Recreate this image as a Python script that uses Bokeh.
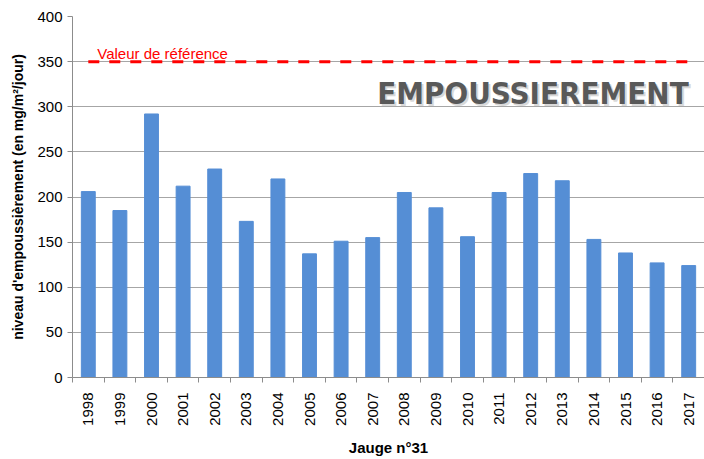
import math
from bokeh.plotting import figure
from bokeh.models import FixedTicker, Range1d
from bokeh.core.properties import value
from bokeh.embed import file_html
from bokeh.resources import INLINE

# ---- data ----
years = list(range(1998, 2018))
dust_values = [206, 185, 292, 212, 231, 173, 220, 137, 151, 155,
               205, 188, 156, 205, 226, 218, 153, 138, 127, 124]
reference_value = 350
reference_label = "Valeur de référence"
banner_text = "EMPOUSSIEREMENT"
y_ticks = [0, 50, 100, 150, 200, 250, 300, 350, 400]
x_title = "Jauge n°31"
y_title = "niveau d'empoussièrement (en mg/m²/jour)"

FONT = "Liberation Sans"
BANNER_FONT = "DejaVu Sans Condensed"
GRID = "#A6A6A6"
AXIS = "#8C8C8C"
BAR = "#558ED5"

p = figure(width=704, height=459, output_backend="svg", toolbar_location=None,
           x_range=Range1d(years[0] - 0.5, years[-1] + 0.5),
           y_range=Range1d(y_ticks[0], y_ticks[-1]),
           min_border_left=72, min_border_right=0, min_border_top=16,
           min_border_bottom=82)
p.outline_line_color = None
p.background_fill_color = "white"
p.border_fill_color = "white"

# bars
p.vbar(x=years, top=dust_values, width=0.44, color=BAR)

# reference line
p.line(x=[years[0], years[-1]], y=[reference_value, reference_value],
       line_color="#FF0000", line_width=3, line_dash="11 10")
p.text(x=[years[0]], y=[reference_value], text=[reference_label],
       x_offset=9, y_offset=-8, text_color="#FF0000",
       text_font=value(FONT), text_font_size="15px",
       text_baseline="alphabetic", text_align="left")

# banner
p.text(x=[years[-1]], y=[y_ticks[6]], text=[banner_text],
       x_offset=2, y_offset=-12, text_color="#C8C8C8", text_alpha=0.7,
       text_font=value(BANNER_FONT), text_font_style="bold",
       text_font_size="31px", text_align="right", text_baseline="alphabetic")
p.text(x=[years[-1]], y=[y_ticks[6]], text=[banner_text],
       x_offset=0, y_offset=-14, text_color="#595959",
       text_font=value(BANNER_FONT), text_font_style="bold",
       text_font_size="31px", text_align="right", text_baseline="alphabetic")

# grid
p.xgrid.grid_line_color = None
p.ygrid.grid_line_color = GRID
p.ygrid.grid_line_width = 1
p.ygrid.ticker = FixedTicker(ticks=y_ticks)

# x axis
xa = p.xaxis[0]
xa.ticker = FixedTicker(ticks=years,
                        minor_ticks=[y - 0.5 for y in years] + [years[-1] + 0.5])
xa.major_label_overrides = {y: str(y) for y in years}
xa.major_label_orientation = math.pi / 2
xa.major_tick_out = 0
xa.major_tick_in = 0
xa.minor_tick_out = 5
xa.minor_tick_in = 0
xa.minor_tick_line_color = AXIS
xa.axis_line_color = AXIS
xa.major_label_standoff = 10
xa.major_label_text_font = FONT
xa.major_label_text_font_size = "15px"
xa.major_label_text_color = "#000000"
xa.axis_label = x_title
xa.axis_label_text_font = FONT
xa.axis_label_text_font_style = "bold"
xa.axis_label_text_font_size = "15px"
xa.axis_label_text_color = "#000000"
xa.axis_label_standoff = 10

# y axis
ya = p.yaxis[0]
ya.ticker = FixedTicker(ticks=y_ticks)
ya.minor_tick_line_color = None
ya.major_tick_out = 5
ya.major_tick_in = 0
ya.major_tick_line_color = AXIS
ya.axis_line_color = AXIS
ya.major_label_standoff = 5
ya.major_label_text_font = FONT
ya.major_label_text_font_size = "15px"
ya.major_label_text_color = "#000000"
ya.axis_label = y_title
ya.axis_label_text_font = FONT
ya.axis_label_text_font_style = "bold"
ya.axis_label_text_font_size = "14px"
ya.axis_label_text_color = "#000000"
ya.axis_label_standoff = 8

open("out.html", "w").write(file_html(p, INLINE))
